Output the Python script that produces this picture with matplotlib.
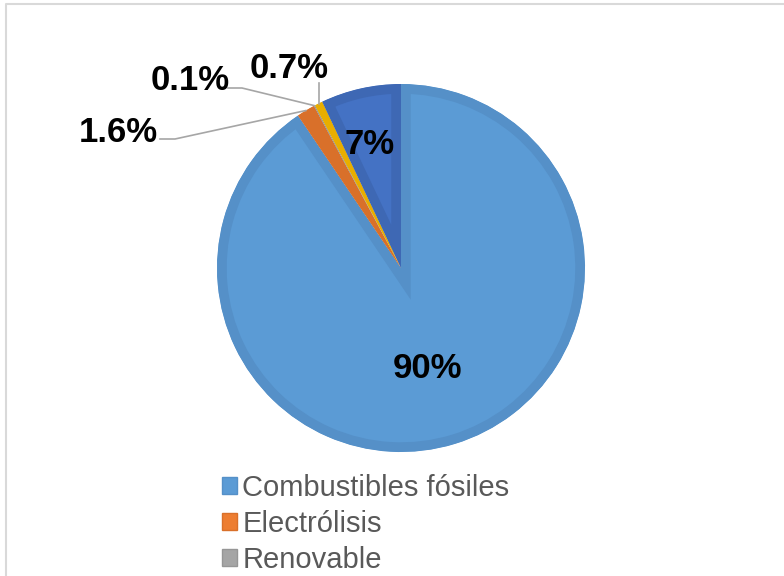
import matplotlib.pyplot as plt
import matplotlib.patches as mpatches
import numpy as np

plt.rcParams['font.family'] = ['Liberation Sans', 'DejaVu Sans']

# data
categories = ['Combustibles fósiles', 'Electrólisis', 'Renovable', 'Otros', 'Otros 2']
values = [90, 1.6, 0.1, 0.7, 7]
labels = ['90%', '1.6%', '0.1%', '0.7%', '7%']
colors = ['#5B9BD5', '#ED7D31', '#A5A5A5', '#FFC000', '#4472C4']
edge_colors = ['#5590C8', '#D9702A', '#969696', '#E8AE00', '#3E68B4']

W, H = 784, 576
fig = plt.figure(figsize=(W / 100, H / 100), dpi=100)
ax = fig.add_axes([0, 0, 1, 1])

cx, cy, r = 401, 308, 184
wedges, _ = ax.pie(values, colors=colors, startangle=90, counterclock=False,
                   center=(cx, cy), radius=r, frame=True)
ax.set_xlim(0, W)
ax.set_ylim(0, H)
ax.set_aspect('equal')
ax.axis('off')

# chart frame (cut off on right/bottom)
ax.plot([6, 6, W + 10], [-10, H - 4, H - 4], color='#D9D9D9', lw=1.5)

# inner bevel: thick edge clipped to each wedge
for w, ec in zip(wedges, edge_colors):
    w.set_edgecolor(ec)
    w.set_linewidth(14)
    clip = mpatches.Wedge((cx, cy), r, w.theta1, w.theta2, transform=ax.transData)
    w.set_clip_on(True)
    w.set_clip_path(clip)


def edge_point(w, rad):
    a = np.deg2rad((w.theta1 + w.theta2) / 2)
    return cx + rad * np.cos(a), cy + rad * np.sin(a)


lbl_kw = dict(fontsize=25, fontweight='bold', color='black', ha='center', va='center')

# inside labels
ax.text(428, H - 368, labels[0], **lbl_kw)
ax.text(370, H - 145, labels[4], **lbl_kw)

# outside labels with leader lines
lc = '#A6A6A6'
x1, y1 = edge_point(wedges[1], r)
ax.plot([160, 175, x1], [H - 139, H - 139, y1], color=lc, lw=1.2)
ax.text(118, H - 133, labels[1], **lbl_kw)

x2, y2 = edge_point(wedges[2], r)
ax.plot([228, 242, x2], [H - 88, H - 88, y2], color=lc, lw=1.2)
ax.text(190, H - 80, labels[2], **lbl_kw)

x3, y3 = edge_point(wedges[3], r)
ax.plot([x3, x3], [H - 83, y3], color=lc, lw=1.2)
ax.text(289, H - 69, labels[3], **lbl_kw)

# legend (only first three entries visible)
handles = [mpatches.Patch(facecolor=c, edgecolor=ec, lw=1)
           for c, ec in zip(colors[:3], edge_colors[:3])]
fig.legend(handles, categories[:3], loc='upper left',
           bbox_to_anchor=(222 / W, 1 - 474 / H), frameon=False,
           fontsize=21, labelcolor='#595959', handlelength=0.5,
           handleheight=0.5, handletextpad=0.2, labelspacing=0.27,
           borderpad=0, borderaxespad=0)

fig.savefig('out.png', dpi=100)
